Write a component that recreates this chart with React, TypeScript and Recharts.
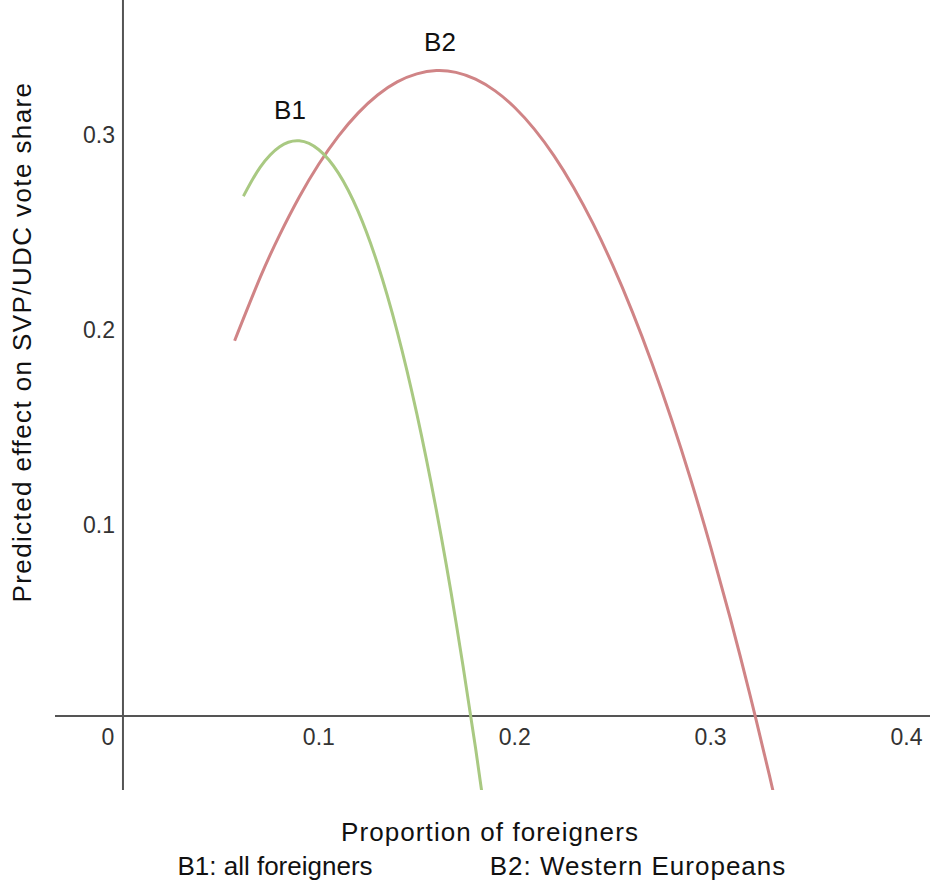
import { LineChart, Line, XAxis, YAxis, ReferenceLine, ReferenceDot } from 'recharts';

// B1: all foreigners (proportion of foreigners, predicted effect)
const b1X = [0.0615, 0.07, 0.08, 0.09, 0.1, 0.11, 0.12, 0.13, 0.14, 0.15, 0.16, 0.17, 0.18, 0.186];
const b1Y = [0.2666, 0.2814, 0.292, 0.295, 0.2904, 0.2784, 0.2589, 0.2318, 0.1972, 0.1551, 0.1055, 0.0483, -0.0164, -0.0588];

// B2: Western Europeans
const b2X = [0.057, 0.07, 0.08, 0.09, 0.1, 0.11, 0.12, 0.13, 0.14, 0.15, 0.16, 0.17, 0.18, 0.19, 0.2, 0.21, 0.22, 0.23, 0.24, 0.25, 0.26, 0.27, 0.28, 0.29, 0.3, 0.31, 0.32, 0.33, 0.336];
const b2Y = [0.1925, 0.2248, 0.2468, 0.2662, 0.2831, 0.2974, 0.3092, 0.3185, 0.3252, 0.3293, 0.331, 0.3301, 0.3266, 0.3206, 0.3121, 0.301, 0.2874, 0.2712, 0.2525, 0.2312, 0.2074, 0.1811, 0.1522, 0.1208, 0.0868, 0.0503, 0.0113, -0.0303, -0.0565];

const xTicks = [0, 0.1, 0.2, 0.3, 0.4];
const yTicks = [0.1, 0.2, 0.3];

const b1Data = b1X.map((x, i) => ({ x, y: b1Y[i] }));
const b2Data = b2X.map((x, i) => ({ x, y: b2Y[i] }));

const font = '"Liberation Sans", Arial, sans-serif';

const App = () => {
    return (
        <div style={{ position: 'absolute', left: 0, top: 0, background: '#fff' }}>
            <LineChart width={930} height={887} margin={{ top: 0, right: 0, left: 55, bottom: 97 }}>
                <XAxis type="number" dataKey="x" domain={[-0.0347, 0.412]} allowDataOverflow hide />
                <YAxis type="number" dataKey="y" domain={[-0.0379, 0.3672]} allowDataOverflow hide />
                <ReferenceLine x={0} stroke="#555" strokeWidth={2} />
                <ReferenceLine y={0} stroke="#555" strokeWidth={2} />
                <Line data={b2Data} dataKey="y" type="natural" stroke="#d08486" strokeWidth={3} dot={false} isAnimationActive={false} />
                <Line data={b1Data} dataKey="y" type="natural" stroke="#a9c982" strokeWidth={3} dot={false} isAnimationActive={false} />
                {xTicks.map((t) => (
                    <ReferenceDot key={'x' + t} x={t} y={0} r={0} shape={(p: any) => (
                        <text x={p.cx + (t === 0 ? -15 : 0)} y={p.cy + 29} textAnchor="middle" fontSize={23} fontFamily={font} fill="#333">{t}</text>
                    )} />
                ))}
                {yTicks.map((t) => (
                    <ReferenceDot key={'y' + t} x={0} y={t} r={0} shape={(p: any) => (
                        <text x={p.cx - 8} y={p.cy + 12} textAnchor="end" fontSize={23} fontFamily={font} fill="#333">{t}</text>
                    )} />
                ))}
                <text x={290} y={119} textAnchor="middle" fontSize={26} fontFamily={font} fill="#111">B1</text>
                <text x={440} y={51} textAnchor="middle" fontSize={26} fontFamily={font} fill="#111">B2</text>
                <text x={0} y={0} transform="translate(31,342) rotate(-90)" textAnchor="middle" fontSize={26} letterSpacing={1.4} fontFamily={font} fill="#111">Predicted effect on SVP/UDC vote share</text>
                <text x={490} y={841} textAnchor="middle" fontSize={26} letterSpacing={1.1} fontFamily={font} fill="#111">Proportion of foreigners</text>
                <text x={275} y={875} textAnchor="middle" fontSize={26} fontFamily={font} fill="#111">B1: all foreigners</text>
                <text x={638} y={875} textAnchor="middle" fontSize={26} letterSpacing={1.0} fontFamily={font} fill="#111">B2: Western Europeans</text>
            </LineChart>
        </div>
    );
};

export default App;
